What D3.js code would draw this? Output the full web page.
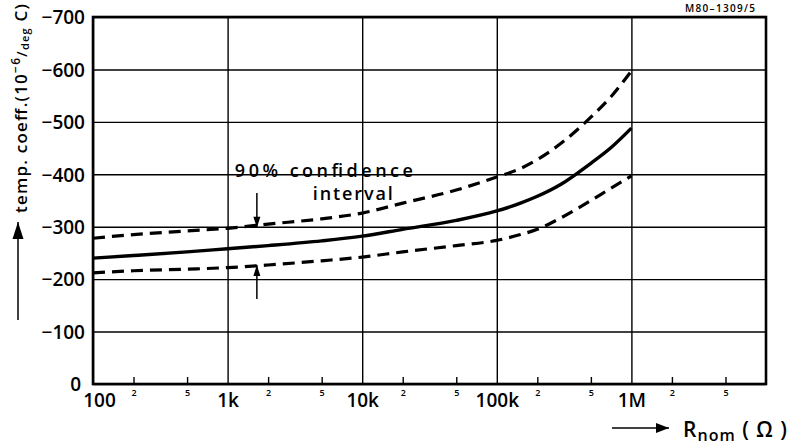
<!DOCTYPE html>
<html>
<head>
<meta charset="utf-8">
<script src="https://cdn.jsdelivr.net/npm/d3@7"></script>
<style>
  html, body { margin: 0; padding: 0; background: #fff; }
  svg { display: block; }
  text { font-family: "Open Sans", "DejaVu Sans", sans-serif; font-weight: 600; fill: #000; }
</style>
</head>
<body>
<svg id="chart" width="794" height="446"></svg>
<script>
// ---- data ----
const resistance = [100, 200, 500, 1e3, 2e3, 5e3, 1e4, 2e4, 5e4, 1e5, 1.5e5, 2e5, 3e5, 5e5, 7e5, 1e6];
const typical    = [-240, -245, -252, -258, -264, -273, -282, -295, -312, -330, -345, -358, -381, -421, -450, -488];
const upperLimit = [-278, -285, -292, -297, -305, -315, -326, -345, -370, -395, -411, -428, -459, -509, -547, -597];
const lowerLimit = [-212, -216, -219, -222, -227, -235, -242, -252, -264, -274, -285, -295, -317, -350, -373, -397];

const xMajorTicks  = [100, 1e3, 1e4, 1e5, 1e6];
const xMajorLabels = ["100", "1k", "10k", "100k", "1M"];
const xMinorTicks  = [200, 500, 2e3, 5e3, 2e4, 5e4, 2e5, 5e5, 2e6, 5e6];
const xMinorLabels = ["2", "5", "2", "5", "2", "5", "2", "5", "2", "5"];
const yTicks = [0, -100, -200, -300, -400, -500, -600, -700];
const annotationR = 1650;

// ---- layout ----
const pL = 93, pR = 766, pT = 17, pB = 384;
const svg = d3.select("#chart");

const x = d3.scaleLog().domain([100, 1e7]).range([pL, pR]);
const y = d3.scaleLinear().domain([0, -700]).range([pB, pT]);

// grid + y axis
const yAxis = d3.axisLeft(y).tickValues(yTicks).tickSize(-(pR - pL)).tickPadding(8)
  .tickFormat(d => d === 0 ? "0" : "\u2212" + Math.abs(d));
const gy = svg.append("g").attr("transform", `translate(${pL},0)`).call(yAxis);
gy.select(".domain").remove();
gy.selectAll(".tick line").attr("stroke", "#000").attr("stroke-width", 1.4);
gy.selectAll(".tick text").attr("font-size", 19).attr("dy", "0.36em")
  .attr("dx", d => d === 0 ? -4 : 0);

const xAxis = d3.axisBottom(x).tickValues(xMajorTicks).tickSize(-(pB - pT)).tickPadding(10)
  .tickFormat((d, i) => xMajorLabels[i]);
const gx = svg.append("g").attr("transform", `translate(0,${pB})`).call(xAxis);
gx.select(".domain").remove();
gx.selectAll(".tick line").attr("stroke", "#000").attr("stroke-width", 1.4);
gx.selectAll(".tick text").attr("font-size", 19).attr("dy", "0.71em")
  .attr("dx", (d, i) => i === 0 ? 6 : 0);

const xMinor = d3.axisBottom(x).tickValues(xMinorTicks).tickSize(-7).tickPadding(10)
  .tickFormat((d, i) => xMinorLabels[i]);
const gm = svg.append("g").attr("transform", `translate(0,${pB})`).call(xMinor);
gm.select(".domain").remove();
gm.selectAll(".tick line").attr("stroke", "#000").attr("stroke-width", 1.4);
gm.selectAll(".tick text").attr("font-size", 9).attr("font-weight", "bold").attr("dy", "0.2em");

// frame
svg.append("rect").attr("x", pL).attr("y", pT).attr("width", pR - pL).attr("height", pB - pT)
  .attr("fill", "none").attr("stroke", "#000").attr("stroke-width", 2.6);

// curves
const line = vals => d3.line().x((d, i) => x(resistance[i])).y(d => y(d)).curve(d3.curveMonotoneX)(vals);
svg.append("path").attr("d", line(upperLimit)).attr("fill", "none").attr("stroke", "#000")
  .attr("stroke-width", 3.2).attr("stroke-dasharray", "12,7");
svg.append("path").attr("d", line(lowerLimit)).attr("fill", "none").attr("stroke", "#000")
  .attr("stroke-width", 3.2).attr("stroke-dasharray", "12,7");
svg.append("path").attr("d", line(typical)).attr("fill", "none").attr("stroke", "#000")
  .attr("stroke-width", 3.4);

// arrow helper
function arrow(x1, y1, x2, y2, head, w) {
  svg.append("line").attr("x1", x1).attr("y1", y1).attr("x2", x2).attr("y2", y2)
    .attr("stroke", "#000").attr("stroke-width", 1.5);
  const ang = Math.atan2(y2 - y1, x2 - x1);
  const bx = x2 - head * Math.cos(ang), by = y2 - head * Math.sin(ang);
  const px = -Math.sin(ang) * w, py = Math.cos(ang) * w;
  svg.append("path").attr("d", `M${x2},${y2}L${bx + px},${by + py}L${bx - px},${by - py}Z`).attr("fill", "#000");
}

// annotation
const ax = x(annotationR);
svg.append("text").attr("x", ax - 22).attr("y", 177).attr("font-size", 18)
  .attr("textLength", 178).attr("lengthAdjust", "spacing").text("90% confidence");
svg.append("text").attr("x", ax + 56).attr("y", 200).attr("font-size", 18)
  .attr("textLength", 80).attr("lengthAdjust", "spacing").text("interval");
arrow(ax, 193, ax, y(-298), 11, 3.5);
arrow(ax, 299, ax, y(-227), 11, 3.5);

// y title
const yt = svg.append("text").attr("transform", "translate(27,213) rotate(-90)")
  .attr("font-size", 17).attr("textLength", 209).attr("lengthAdjust", "spacing");
yt.append("tspan").text("temp. coeff.(10");
yt.append("tspan").attr("font-size", 12).attr("dy", -7).text("\u22126");
yt.append("tspan").attr("font-size", 14).attr("dy", 7).text("/");
yt.append("tspan").attr("font-size", 11).attr("dy", 2).text("deg");
yt.append("tspan").attr("dy", -2).text(" C)");
arrow(18, 320, 18, 222, 17, 5.5);

// x title
arrow(612, 428, 669, 428, 13, 5);
const xt = svg.append("text").attr("x", 683).attr("y", 437).attr("font-size", 21)
  .attr("textLength", 104).attr("lengthAdjust", "spacing");
xt.append("tspan").text("R");
xt.append("tspan").attr("font-size", 16).attr("dy", 4).text("nom");
xt.append("tspan").attr("dy", -4).text(" ( \u03A9 )");

// figure code
svg.append("text").attr("x", 755).attr("y", 12).attr("text-anchor", "end").attr("font-size", 10)
  .attr("font-weight", "bold").attr("textLength", 70).attr("lengthAdjust", "spacing").text("M80\u20131309/5");
</script>
</body>
</html>
